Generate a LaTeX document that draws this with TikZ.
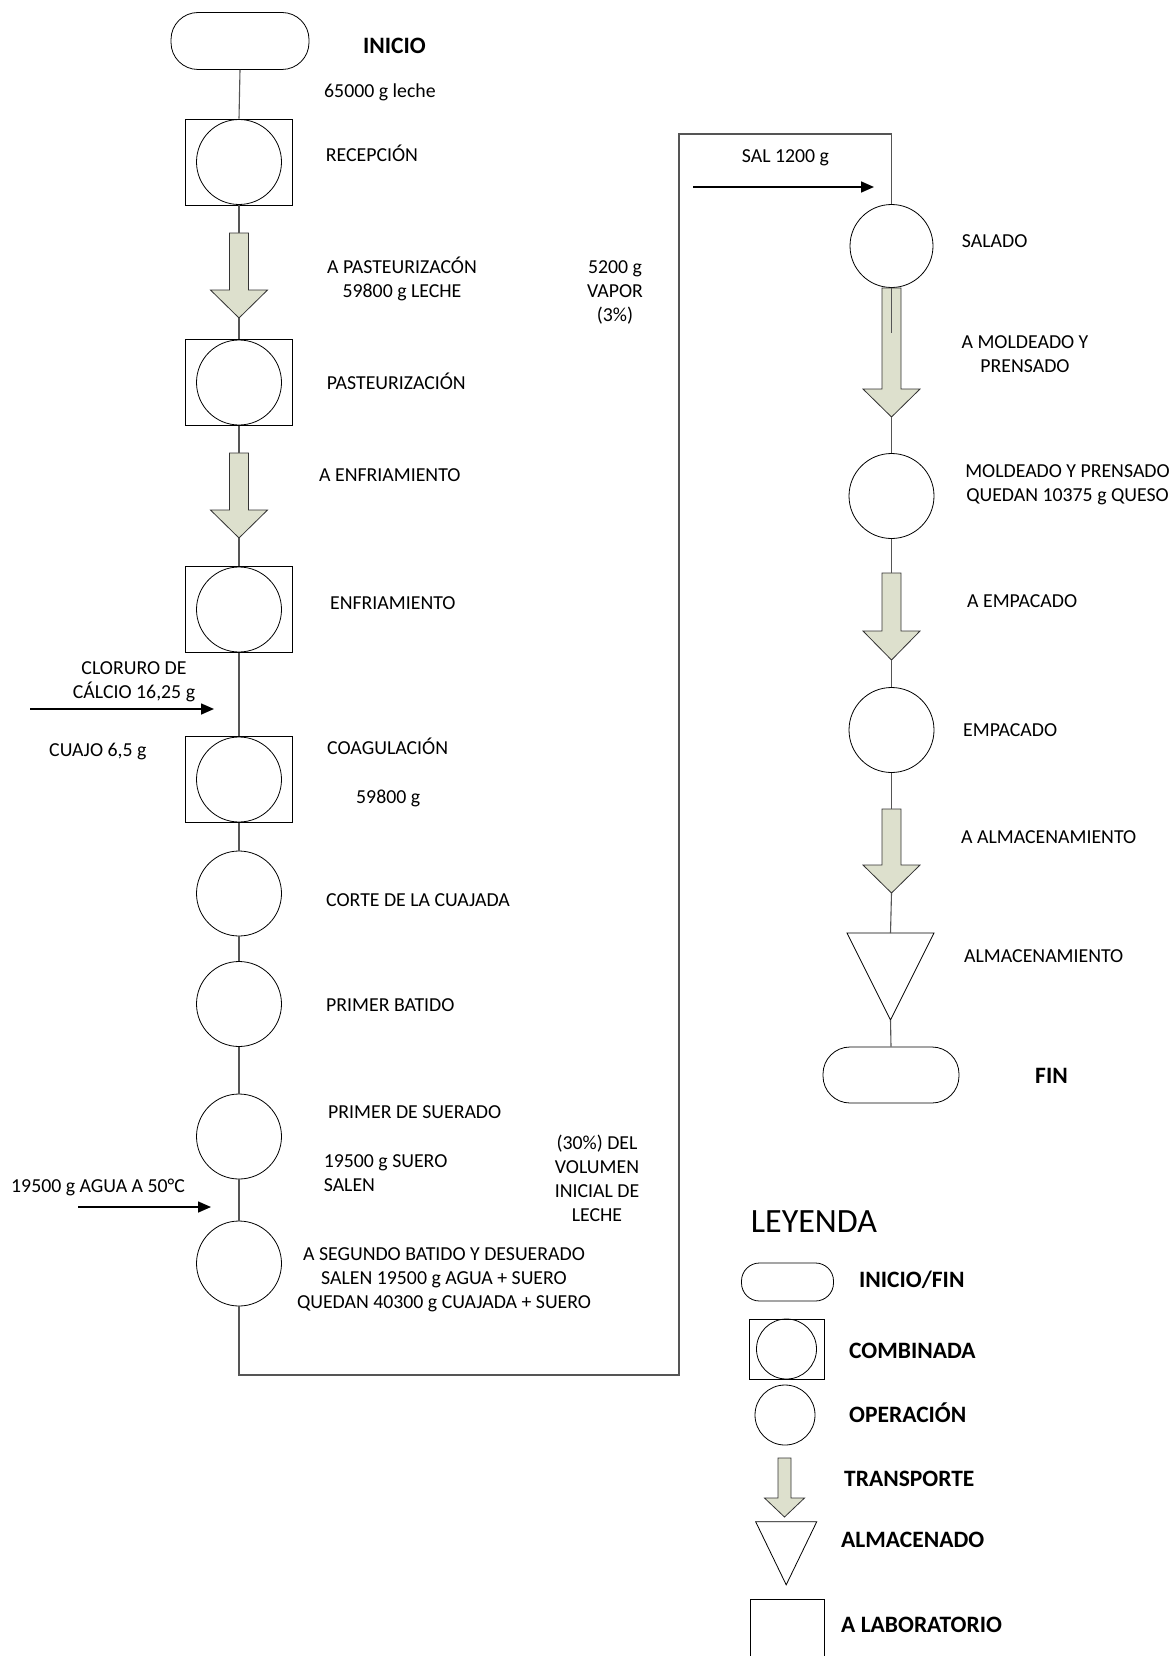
\documentclass[tikz,border=0pt]{standalone}
\usepackage{fontspec}
\setmainfont{Carlito}
\usetikzlibrary{arrows.meta}
\definecolor{trgreen}{RGB}{221,224,205}
\definecolor{connc}{RGB}{85,85,85}
\newcommand\lblfont{\fontsize{19.8pt}{24pt}\selectfont}
\newcommand\bldfont{\bfseries\fontsize{23.5pt}{28pt}\selectfont}
\newcommand\leyfont{\fontsize{34pt}{40pt}\selectfont}
% name, x, ytop, length, shaft half width, head width, head length
\newcommand\trarrow[7]{%
  \node[inner sep=0pt, outer sep=0pt, minimum width=#6pt, minimum height=#4pt, anchor=north] (#1) at (#2,#3) {};
  \draw[trshape] ([xshift=-#5pt]#1.north) -- ([xshift=#5pt]#1.north)
     -- ([xshift=#5pt,yshift=#7pt]#1.south) -- ([yshift=#7pt]#1.south east)
     -- (#1.south) -- ([yshift=#7pt]#1.south west)
     -- ([xshift=-#5pt,yshift=#7pt]#1.south) -- cycle;
}
\begin{document}
\begin{tikzpicture}[x=1pt, y=-1pt,
  shp/.style={draw=black, line width=0.8pt},
  term/.style={shp, rectangle, rounded corners=27pt, minimum width=138pt, minimum height=57pt, inner sep=0pt},
  combo/.style={shp, rectangle, minimum width=107pt, minimum height=86pt, inner sep=0pt},
  op/.style={shp, circle, minimum size=85pt, inner sep=0pt},
  trshape/.style={draw=black!80, line width=0.8pt, fill=trgreen},
  connline/.style={draw=connc, line width=1.1pt},
  inarr/.style={draw=black, line width=1.6pt, -{Triangle[length=13pt,width=11pt]}},
  lbl/.style={inner sep=0pt, anchor=base west, font=\lblfont},
  lblc/.style={inner sep=0pt, anchor=base, align=center, font=\lblfont},
  lbll/.style={inner sep=0pt, anchor=base west, align=left, font=\lblfont},
  bld/.style={inner sep=0pt, anchor=base west, font=\bldfont},
  invis/.style={inner sep=0pt, outer sep=0pt}
]
\useasboundingbox (0,0) rectangle (1172,1656);
\fill[white] (0,0) rectangle (1172,1656);

% ---------- left column ----------
\node[term] (inicio) at (240,41) {};
\node[combo] (recep) at (239,162) {};
\node[op] (recepc) at (recep) {};
\trarrow{a1}{239}{233}{85}{9.5}{57}{28}
\node[combo] (past) at (239,382.5) {};
\node[op] (pastc) at (past) {};
\trarrow{a2}{239}{453}{85}{9.5}{57}{28}
\node[combo] (enfr) at (239,609.5) {};
\node[op] (enfrc) at (enfr) {};
\node[combo] (coag) at (239,779.5) {};
\node[op] (coagc) at (coag) {};
\node[op] (corte) at (239,893.5) {};
\node[op] (batido) at (239,1004) {};
\node[op] (suer) at (239,1136.5) {};
\node[op] (seg) at (239,1263.5) {};

% ---------- right column ----------
\node[op, minimum size=83pt] (salado) at (891.5,246) {};
\trarrow{r1}{891.5}{288}{129}{9.5}{57}{28}
\node[op] (mold) at (891.5,496) {};
\trarrow{r2}{891.5}{573}{87}{9.5}{57}{29}
\node[op] (emp) at (891.5,730) {};
\trarrow{r3}{891.5}{809}{84}{9.5}{57}{28}
\node[invis, minimum width=87pt, minimum height=87pt] (tri) at (890.5,976.5) {};
\draw[shp] (tri.north west) -- (tri.north east) -- (tri.south) -- cycle;
\node[term, minimum width=136pt, minimum height=56pt] (fin) at (891,1075) {};

% ---------- connectors ----------
\coordinate (bl) at (679,1375);
\coordinate (tr) at (679,134);
\coordinate (sx) at (891.5,333);
\draw[connline] (inicio.south) -- (recep.north);
\draw[connline] (recep.south) -- (a1.north);
\draw[connline] (a1.south) -- (past.north);
\draw[connline] (past.south) -- (a2.north);
\draw[connline] (a2.south) -- (enfr.north);
\draw[connline] (enfr.south) -- (coag.north);
\draw[connline] (coag.south) -- (corte.north);
\draw[connline] (corte.south) -- (batido.north);
\draw[connline] (batido.south) -- (suer.north);
\draw[connline] (suer.south) -- (seg.north);
\draw[connline] (seg.south) |- (bl) -- (tr) -| (salado.north);
\draw[connline, line width=0.8pt] (salado.south) -- (sx);
\draw[connline] (r1.south) -- (mold.north);
\draw[connline] (mold.south) -- (r2.north);
\draw[connline] (r2.south) -- (emp.north);
\draw[connline] (emp.south) -- (r3.north);
\draw[connline] (r3.south) -- (tri.north);
\draw[connline] (tri.south) -- (fin.north);

% ---------- input arrows ----------
\coordinate (cl0) at (30,709);   \coordinate (cl1) at (214,709);
\coordinate (ag0) at (78,1207);  \coordinate (ag1) at (211,1207);
\coordinate (sa0) at (693,187);  \coordinate (sa1) at (874,187);
\draw[inarr] (cl0) -- (cl1);
\draw[inarr] (ag0) -- (ag1);
\draw[inarr] (sa0) -- (sa1);

% ---------- labels (multi-line nodes: base = last line) ----------
\node[bld] (tinicio) at (363,53.3) {INICIO};
\node[lbl] (t1) at (324,98) {65000 g leche};
\node[lbl] (t2) at (325.7,161.4) {RECEPCIÓN};
\node[lblc] (t3) at (402,297) {A PASTEURIZACÓN\\59800 g LECHE};
\node[lblc] (t4) at (615,321.5) {5200 g\\VAPOR\\(3\%)};
\node[lbl] (t5) at (326.7,389) {PASTEURIZACIÓN};
\node[lbl] (t6) at (319,481.4) {A ENFRIAMIENTO};
\node[lbl] (t7) at (330,609.4) {ENFRIAMIENTO};
\node[lblc] (t8) at (134,698.7) {CLORURO DE\\CÁLCIO 16,25 g};
\node[lbl] (t9) at (49,756.4) {CUAJO 6,5 g};
\node[lbl] (t10) at (327,754.7) {COAGULACIÓN};
\node[lbl] (t11) at (356,803) {59800 g};
\node[lbl] (t12) at (326,906.4) {CORTE DE LA CUAJADA};
\node[lbl] (t13) at (326,1011.4) {PRIMER BATIDO};
\node[lbl] (t14) at (328,1118.4) {PRIMER DE SUERADO};
\node[lbll] (t15) at (323.6,1191.4) {19500 g SUERO\\SALEN};
\node[lblc] (t16) at (597,1221.4) {(30\%) DEL\\VOLUMEN\\INICIAL DE\\LECHE};
\node[lbl] (t17) at (11,1192) {19500 g AGUA A 50°C};
\node[lblc] (t18) at (444,1308.4) {A SEGUNDO BATIDO Y DESUERADO\\SALEN 19500 g AGUA + SUERO\\QUEDAN 40300 g CUAJADA + SUERO};
\node[lbl] (t19) at (741.7,162.4) {SAL 1200 g};
\node[lbl] (t20) at (961.7,247) {SALADO};
\node[lblc] (t21) at (1025,372.4) {A MOLDEADO Y\\PRENSADO};
\node[lblc] (t22) at (1067.5,501.4) {MOLDEADO Y PRENSADO\\QUEDAN 10375 g QUESO};
\node[lbl] (t23) at (967,607.4) {A EMPACADO};
\node[lbl] (t24) at (963,736.4) {EMPACADO};
\node[lbl] (t25) at (961,843.4) {A ALMACENAMIENTO};
\node[lbl] (t26) at (964,962) {ALMACENAMIENTO};
\node[bld] (tfin) at (1035,1083.6) {FIN};

% ---------- legend ----------
\node[inner sep=0pt, anchor=base west, font=\leyfont] (ley) at (750.7,1232.7) {LEYENDA};
\node[term, rounded corners=18pt, minimum width=92pt, minimum height=38pt] (lterm) at (787.5,1282) {};
\node[bld] (lt1) at (859,1287.6) {INICIO/FIN};
\node[combo, minimum width=75pt, minimum height=60pt] (lcomb) at (786.5,1349) {};
\node[op, minimum size=60pt] (lcombc) at (lcomb) {};
\node[bld] (lt2) at (849,1358.3) {COMBINADA};
\node[op, minimum size=60pt] (lop) at (785,1415) {};
\node[bld] (lt3) at (849,1422.6) {OPERACIÓN};
\trarrow{ltr}{784.5}{1458}{59}{6.5}{40}{19}
\node[bld] (lt4) at (844,1486.6) {TRANSPORTE};
\node[invis, minimum width=61pt, minimum height=63pt] (ltri) at (786.2,1553.3) {};
\draw[shp] (ltri.north west) -- (ltri.north east) -- (ltri.south) -- cycle;
\node[bld] (lt5) at (841,1547.6) {ALMACENADO};
\node[invis, minimum width=74pt, minimum height=70pt, anchor=north] (llab) at (787,1599) {};
\draw[shp] (llab.south west) -- (llab.north west) -- (llab.north east) -- (llab.south east);
\node[bld] (lt6) at (841,1632.6) {A LABORATORIO};
\end{tikzpicture}
\end{document}
